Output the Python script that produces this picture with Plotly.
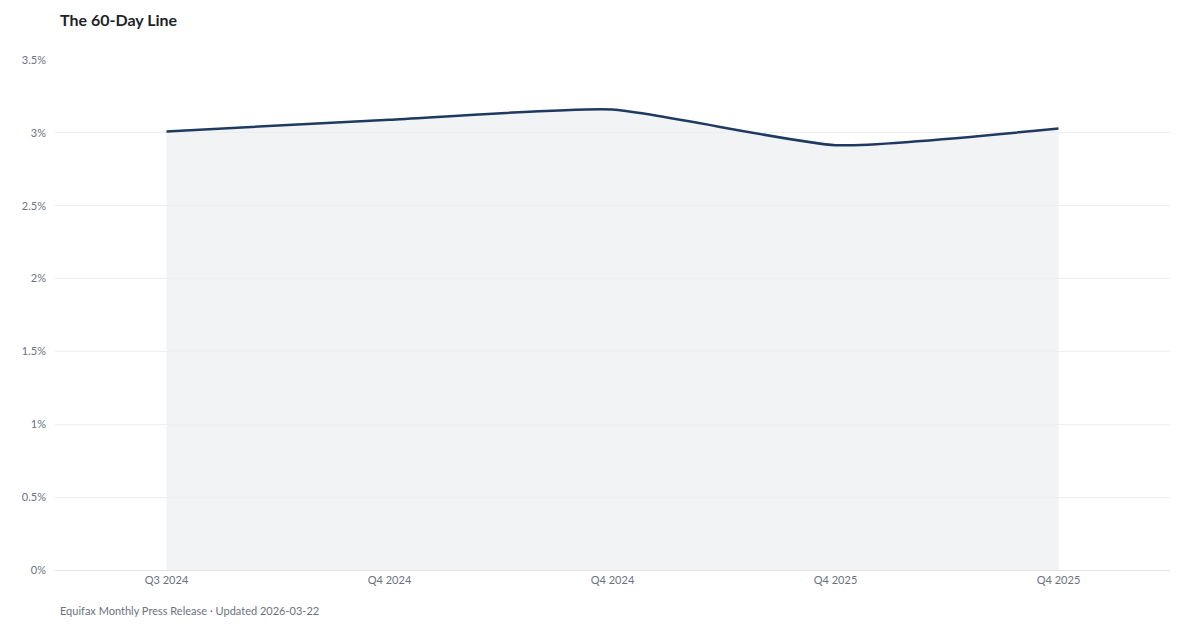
import plotly.graph_objects as go

categories = ["Q3 2024", "Q4 2024", "Q4 2024", "Q4 2025", "Q4 2025"]
values = [3.01, 3.09, 3.16, 2.915, 3.03]
y_ticks = [0, 0.5, 1, 1.5, 2, 2.5, 3, 3.5]

x_pos = list(range(len(categories)))

fig = go.Figure()
fig.add_trace(go.Scatter(
    x=x_pos, y=values, mode="lines",
    line=dict(color="#1f3a60", width=2.5, shape="spline", smoothing=0.5),
    fill="tozeroy", fillcolor="rgba(233,236,240,0.65)",
    hoverinfo="skip", showlegend=False,
))

fig.update_layout(
    width=1200, height=630,
    margin=dict(l=55, r=30, t=60, b=60),
    paper_bgcolor="white", plot_bgcolor="white",
    font=dict(family="Lato, 'Open Sans', sans-serif", color="#6b7280", size=11),
    title=dict(text="<b>The 60-Day Line</b>", x=60 / 1200, xanchor="left",
               y=1 - 20 / 630, yanchor="middle",
               font=dict(family="Lato, sans-serif", size=16, color="#1f2329")),
    xaxis=dict(
        range=[-0.5, len(categories) - 0.5],
        tickmode="array", tickvals=x_pos, ticktext=categories,
        showgrid=False, zeroline=False,
        showline=True, linecolor="#e3e3e3", linewidth=1,
        ticks="", ticklen=0,
        tickfont=dict(size=11, color="#6b7280"),
    ),
    yaxis=dict(
        range=[0, 3.5],
        tickmode="array", tickvals=y_ticks,
        ticktext=[("%g" % v) + "%" for v in y_ticks],
        showgrid=True, gridcolor="#eeeeee", gridwidth=1,
        zeroline=False, showline=False,
        ticks="", ticklabelstandoff=8,
        tickfont=dict(size=11, color="#6b7280"),
    ),
    annotations=[dict(
        text="Equifax Monthly Press Release · Updated 2026-03-22",
        xref="paper", yref="paper", x=3 / 1115, y=-40 / 510,
        xanchor="left", yanchor="middle", showarrow=False,
        font=dict(size=11, color="#6b7280", family="Lato, sans-serif"),
    )],
)

fig.write_html("out.html", config={"displayModeBar": False},
               post_script="document.body.style.margin='0';")
